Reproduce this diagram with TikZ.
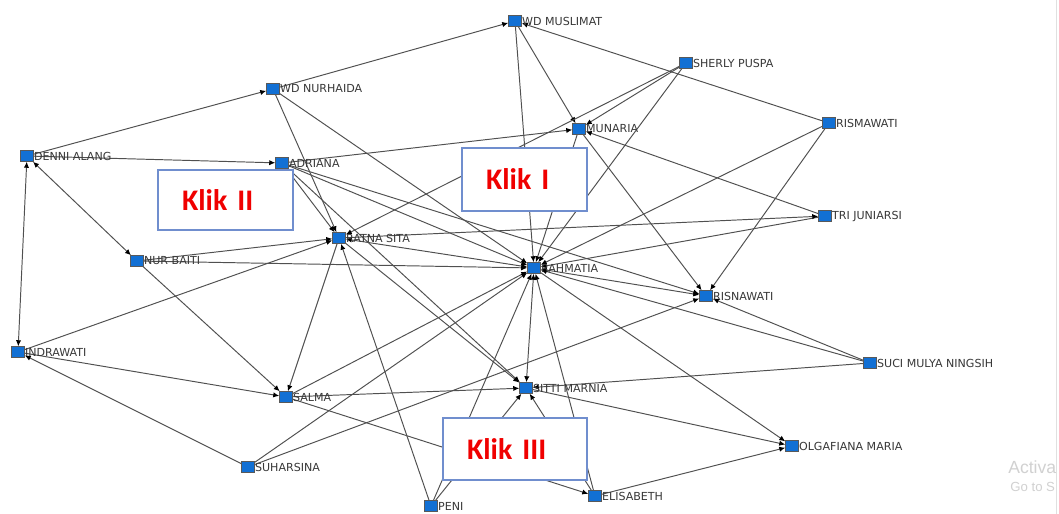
\documentclass[tikz,border=0pt]{standalone}
\usepackage{fontspec}
\setsansfont{DejaVu Sans}
\newfontfamily\klikfont{Carlito}
\newfontfamily\winfont{Liberation Sans}
\usepackage{tikz}
\usetikzlibrary{arrows.meta, backgrounds}
\definecolor{actorblue}{RGB}{18,112,212}
\definecolor{linkgray}{RGB}{80,80,80}
\definecolor{klikframe}{RGB}{112,142,206}
\definecolor{klikred}{RGB}{240,0,0}

\begin{document}
\begin{tikzpicture}[x=0.02cm, y=-0.02cm, >={Latex[length=3.4pt,width=3pt,color=black]},
  every label/.style={font=\sffamily\fontsize{6.3}{7}\selectfont, text=black!78, inner sep=0pt},
  actor/.style={rectangle, fill=actorblue, draw=black!65, line width=0.3pt, minimum width=0.26cm, minimum height=0.22cm, inner sep=0pt, label distance=2pt},
  link/.style={draw=linkgray, line width=0.55pt},
  klik/.style={rectangle, fill=white, draw=klikframe, line width=1pt, inner xsep=0.48cm, inner ysep=0pt, align=left, text=klikred, font=\klikfont\bfseries\fontsize{17}{17}\selectfont}]

\useasboundingbox (0,0) rectangle (1059,514);

\node[actor, label=right:WD MUSLIMAT] (wdMuslimat) at (515,21) {};
\node[actor, label=right:SHERLY PUSPA] (sherlyPuspa) at (686,63) {};
\node[actor, label=right:WD NURHAIDA] (wdNurhaida) at (273,89) {};
\node[actor, label=right:MUNARIA] (munaria) at (579,129) {};
\node[actor, label=right:RISMAWATI] (rismawati) at (829,123) {};
\node[actor, label=right:DENNI ALANG] (denniAlang) at (27,156) {};
\node[actor, label=right:ADRIANA] (adriana) at (282,163) {};
\node[actor, label=right:TRI JUNIARSI] (triJuniarsi) at (825,216) {};
\node[actor, label=right:RATNA SITA] (ratnaSita) at (339,238) {};
\node[actor, label=right:NUR BAITI] (nurBaiti) at (137,261) {};
\node[actor, label=right:RAHMATIA] (rahmatia) at (534,268) {};
\node[actor, label=right:RISNAWATI] (risnawati) at (706,296) {};
\node[actor, label=right:INDRAWATI] (indrawati) at (18,352) {};
\node[actor, label=right:SUCI MULYA NINGSIH] (suciMulya) at (870,363) {};
\node[actor, label=right:SALMA] (salma) at (286,397) {};
\node[actor, label=right:SITTI MARNIA] (sittiMarnia) at (526,388) {};
\node[actor, label=right:OLGAFIANA MARIA] (olgafiana) at (792,446) {};
\node[actor, label=right:SUHARSINA] (suharsina) at (248,467) {};
\node[actor, label=right:ELISABETH] (elisabeth) at (595,496) {};
\node[actor, label=right:PENI] (peni) at (431,506) {};

\begin{scope}[on background layer]
\fill[white] (0,0) rectangle (1059,514);
\draw[black!12] (1056,0) -- (1056,514);
\draw[link, ->] (wdNurhaida) edge (wdMuslimat) (rismawati) edge (wdMuslimat) (wdMuslimat) edge (munaria) (wdMuslimat) edge (rahmatia)
  (sherlyPuspa) edge (munaria) (sherlyPuspa) edge (ratnaSita) (sherlyPuspa) edge (rahmatia) (munaria) edge (rahmatia) (munaria) edge (risnawati)
  (triJuniarsi) edge (munaria) (adriana) edge (munaria) (rismawati) edge (rahmatia) (rismawati) edge (risnawati) (triJuniarsi) edge (rahmatia)
  (ratnaSita) edge (triJuniarsi) (denniAlang) edge (wdNurhaida) (denniAlang) edge (adriana) (wdNurhaida) edge (ratnaSita) (wdNurhaida) edge (rahmatia)
  (adriana) edge (ratnaSita) (adriana) edge (rahmatia) (adriana) edge (risnawati) (adriana) edge (sittiMarnia)
  (nurBaiti) edge (ratnaSita) (nurBaiti) edge (rahmatia) (nurBaiti) edge (salma) (indrawati) edge (ratnaSita) (indrawati) edge (salma)
  (suharsina) edge (indrawati) (ratnaSita) edge (salma) (ratnaSita) edge (sittiMarnia) (peni) edge (ratnaSita)
  (salma) edge (rahmatia) (salma) edge (sittiMarnia) (salma) edge (elisabeth) (suharsina) edge (rahmatia) (suharsina) edge (risnawati)
  (peni) edge (rahmatia) (peni) edge (sittiMarnia) (elisabeth) edge (rahmatia) (elisabeth) edge (sittiMarnia) (elisabeth) edge (olgafiana)
  (rahmatia) edge (olgafiana) (sittiMarnia) edge (olgafiana) (suciMulya) edge (risnawati) (suciMulya) edge (rahmatia) (suciMulya) edge (sittiMarnia);
\draw[link, <->] (denniAlang) edge (nurBaiti) (denniAlang) edge (indrawati) (ratnaSita) edge (rahmatia) (rahmatia) edge (risnawati) (rahmatia) edge (sittiMarnia);
\end{scope}

\node[klik, text width=1.54cm, minimum height=1.26cm] (klikOne) at (524.5,179.5) {Klik I};
\node[klik, text width=1.74cm, minimum height=1.2cm] (klikTwo) at (225.5,200) {Klik II};
\node[klik, text width=1.92cm, minimum height=1.24cm] (klikThree) at (515,449) {Klik III};

\node[anchor=west, inner sep=0pt, text=black!18, font=\winfont\fontsize{10}{11}\selectfont] (winActivate) at (1008,467) {Activa};
\node[anchor=west, inner sep=0pt, text=black!18, font=\winfont\fontsize{7.5}{8}\selectfont] (winGoTo) at (1010,487) {Go to S};
\end{tikzpicture}
\end{document}
